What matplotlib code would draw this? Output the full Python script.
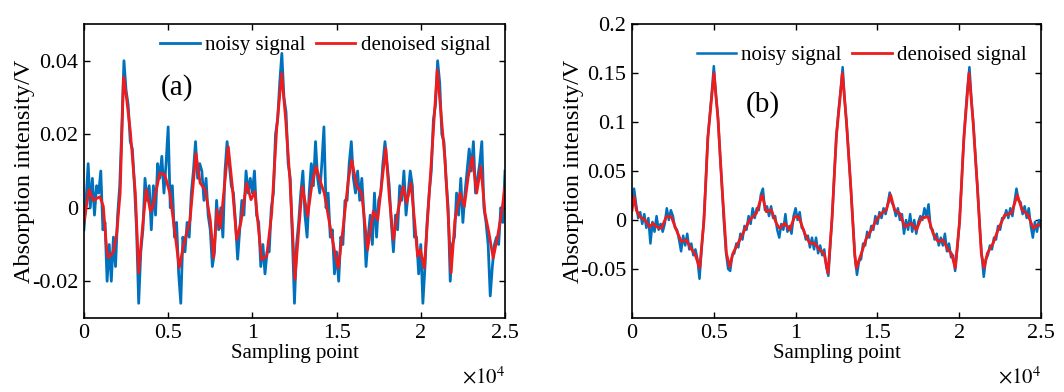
import numpy as np
import matplotlib
matplotlib.use('Agg')
import matplotlib.pyplot as plt

plt.rcParams['font.family'] = ['Liberation Serif', 'DejaVu Serif']
plt.rcParams['mathtext.fontset'] = 'stix'

# ---- panel (a) ----
den_a_x = [0, 300, 550, 950, 1150, 1350, 1450, 1750, 1950, 2150, 2350, 2550, 2750, 3050, 3250,
           3450, 3700, 3950, 4100, 4500, 4800, 5100, 5400, 5660, 5900, 6300, 6650, 6900, 7200,
           7500, 7700, 7900, 8100, 8570, 8810, 9070, 9320, 9660, 9920, 10150, 10350, 10550,
           10850, 11150, 11440, 11740, 11980, 12230, 12530, 12770, 12970, 13280, 13520, 13780,
           14070, 14270, 14610, 14900, 15100, 15400, 15700, 15900, 16200, 16490, 16840, 17180,
           17440, 17920, 18130, 18370, 18660, 18960, 19160, 19420, 19660, 19810, 19970, 20210,
           20490, 20750, 20980, 21200, 21440, 21640, 21800, 22030, 22330, 22590, 22820, 23060,
           23320, 23570, 23810, 24050, 24300, 24560, 24800, 25000]
den_a_y = [-0.004, 0.005, 0.002, 0.003, 0.0004, -0.0114, -0.0136, -0.012, -0.0068, 0.004, 0.0356,
           0.029, 0.021, 0.004, -0.0177, -0.0068, 0.005, -0.001, 0.0004, 0.0094, 0.009, 0.004,
           -0.0068, -0.0163, -0.0105, -0.0033, 0.0148, 0.0067, 0.0049, -0.0033, -0.0136, -0.0005,
           -0.0055, 0.0166, 0.0058, -0.0087, -0.004, 0.0067, 0.0022, 0.0044, -0.005, -0.0141,
           -0.0132, -0.0014, 0.0212, 0.0366, 0.0239, 0.0076, -0.0195, -0.005, 0.0058, -0.0023,
           0.0058, 0.0112, 0.0067, 0.004, -0.005, -0.0123, -0.0164, -0.005, 0.0076, 0.013, 0.0058,
           0.004, -0.0114, -0.001, -0.0033, 0.0162, 0.003, -0.0087, -0.0005, 0.0058, 0.0013,
           0.0067, -0.005, -0.0132, -0.0114, -0.0164, 0.003, 0.0212, 0.0375, 0.0257, 0.013,
           -0.0033, -0.0177, -0.0033, 0.004, 0.0004, 0.0085, 0.0139, 0.004, 0.0112, -0.0014,
           -0.0069, -0.0137, -0.0078, -0.0014, 0.0058]

noisy_a = [-0.006, 0.002, 0.012, 0.000, 0.008, -0.002, 0.006, 0.004,
           0.010, -0.006, -0.004, -0.020, -0.010, -0.020, -0.008, -0.016,
           -0.002, 0.006, 0.022, 0.040, 0.032, 0.028, 0.018, 0.016,
           0.006, -0.006, -0.026, -0.012, -0.006, 0.008, 0.002, 0.006,
           -0.006, 0.006, -0.002, 0.012, 0.008, 0.014, 0.004, 0.012,
           0.022, 0.000, 0.006, -0.008, -0.004, -0.018, -0.026, -0.008,
           -0.012, -0.004, -0.008, 0.004, 0.010, 0.018, 0.008, 0.012,
           0.010, 0.002, 0.008, -0.002, -0.006, -0.016, -0.012, 0.002,
           -0.006, 0.000, -0.008, 0.010, 0.018, 0.012, 0.006, 0.004,
           -0.004, -0.014, -0.006, 0.002, -0.002, 0.010, 0.004, 0.008,
           0.004, 0.010, -0.002, -0.004, -0.016, -0.010, -0.018, -0.012,
           -0.012, 0.000, 0.004, 0.020, 0.024, 0.034, 0.042, 0.030,
           0.026, 0.012, 0.008, -0.008, -0.026, -0.010, -0.004, 0.004,
           0.010, -0.002, -0.008, 0.004, 0.012, 0.006, 0.018, 0.008,
           0.004, 0.012, 0.022, 0.000, 0.004, -0.008, -0.006, -0.018,
           -0.012, -0.020, -0.008, -0.010, 0.002, 0.002, 0.012, 0.018,
           0.008, 0.004, 0.010, 0.002, 0.008, -0.002, -0.016, -0.008,
           -0.002, -0.010, 0.004, -0.008, 0.002, 0.004, 0.012, 0.018,
           0.012, 0.006, -0.004, -0.012, -0.002, -0.006, 0.006, 0.002,
           0.010, -0.002, 0.004, 0.010, 0.006, -0.008, -0.008, -0.018,
           -0.010, -0.026, -0.016, -0.004, 0.004, 0.010, 0.024, 0.028,
           0.040, 0.034, 0.020, 0.018, 0.008, 0.000, -0.020, -0.010,
           -0.008, 0.004, -0.002, 0.008, -0.004, 0.004, 0.010, 0.016,
           0.010, 0.018, 0.004, 0.008, 0.012, 0.018, 0.000, -0.004,
           -0.010, -0.024, -0.016, -0.010, -0.008, -0.010, 0.000, -0.004,
           0.010]

# ---- panel (b) ----
den_b_x = [0, 120, 265, 470, 775, 1080, 1280, 1490, 1790, 2100, 2400, 2710, 3010, 3320, 3590,
           3830, 4140, 4400, 4640, 5010, 5260, 5500, 5770, 5970, 6170, 6480, 6780, 7190, 7600,
           7950, 8210, 8510, 8820, 9020, 9330, 9640, 9940, 10190, 10550, 10860, 11170, 11470,
           11740, 11980, 12220, 12490, 12860, 13100, 13370, 13610, 13710, 14020, 14320, 14630,
           14930, 15240, 15540, 15810, 16050, 16360, 16670, 17070, 17380, 17680, 18090, 18400,
           18700, 19010, 19320, 19520, 19760, 20030, 20290, 20600, 20840, 21110, 21350, 21520,
           21720, 22070, 22370, 22780, 23190, 23550, 23840, 24210, 24520, 24780, 25000]
den_b_y = [0.010, 0.024, 0.010, 0.0034, 0.000, -0.0068, -0.0034, -0.0068, -0.0085, 0.0034, 0.0034,
           -0.0102, -0.022, -0.0204, -0.029, -0.034, -0.049, 0.000, 0.085, 0.150, 0.102, 0.034,
           -0.034, -0.0476, -0.034, -0.0238, -0.0136, 0.000, 0.0068, 0.0255, 0.0085, 0.0102,
           -0.0034, -0.0085, -0.0034, -0.0102, 0.0034, 0.0034, -0.0136, -0.0238, -0.0238,
           -0.0306, -0.034, -0.0544, 0.000, 0.085, 0.150, 0.102, 0.034, -0.034, -0.049, -0.034,
           -0.0187, -0.0102, 0.000, 0.0068, 0.0102, 0.0255, 0.0102, 0.0068, -0.0068, -0.0034,
           -0.0102, 0.0017, 0.0034, -0.0136, -0.022, -0.0204, -0.0306, -0.034, -0.049, 0.000,
           0.085, 0.150, 0.102, 0.034, -0.034, -0.049, -0.034, -0.0238, -0.0102, 0.0051, 0.0068,
           0.0255, 0.0102, 0.0051, -0.0085, -0.0051, -0.005]

noisy_b = [0.014, 0.032, 0.016, 0.002, 0.008, -0.004, 0.006, -0.008,
           0.002, -0.024, -0.002, -0.012, 0.004, -0.010, -0.004, -0.012,
           -0.004, 0.012, 0.000, 0.010, 0.004, -0.008, -0.010, -0.020,
           -0.032, -0.016, -0.026, -0.014, -0.030, -0.024, -0.036, -0.030,
           -0.040, -0.060, -0.030, -0.004, 0.036, 0.082, 0.106, 0.130,
           0.157, 0.128, 0.106, 0.068, 0.034, -0.004, -0.034, -0.050,
           -0.052, -0.036, -0.034, -0.024, -0.028, -0.014, -0.020, -0.006,
           -0.010, 0.004, -0.004, 0.012, 0.002, 0.012, 0.010, 0.026,
           0.032, 0.010, 0.014, 0.004, 0.014, 0.002, 0.004, -0.010,
           -0.018, -0.004, -0.010, 0.006, -0.012, -0.006, -0.014, 0.004,
           0.012, 0.000, 0.008, -0.008, -0.010, -0.020, -0.016, -0.028,
           -0.018, -0.030, -0.018, -0.034, -0.026, -0.036, -0.030, -0.048,
           -0.057, -0.024, 0.008, 0.050, 0.088, 0.112, 0.132, 0.156,
           0.122, 0.096, 0.064, 0.033, -0.002, -0.038, -0.056, -0.042,
           -0.040, -0.024, -0.026, -0.012, -0.018, -0.006, -0.010, 0.004,
           -0.004, 0.008, 0.002, 0.012, 0.006, 0.016, 0.028, 0.018,
           0.014, 0.004, 0.012, 0.000, 0.006, -0.014, 0.000, -0.010,
           0.006, -0.012, 0.000, -0.014, -0.002, 0.004, 0.000, 0.012,
           0.004, 0.016, -0.008, -0.010, -0.020, -0.014, -0.026, -0.018,
           -0.026, -0.014, -0.032, -0.024, -0.038, -0.036, -0.052, -0.030,
           -0.006, 0.032, 0.074, 0.106, 0.134, 0.156, 0.122, 0.096,
           0.062, 0.030, -0.006, -0.036, -0.058, -0.040, -0.036, -0.026,
           -0.030, -0.018, -0.020, -0.006, -0.010, 0.002, 0.002, 0.010,
           0.002, 0.012, 0.004, 0.018, 0.032, 0.020, 0.018, 0.006,
           0.014, 0.002, 0.012, -0.006, -0.018, -0.002, -0.012, 0.000,
           -0.008]

noisy_x = np.arange(0, 25001, 125)   # sample positions of the noisy trace

xticks = [0, 5000, 10000, 15000, 20000, 25000]
xticklabels = ['0', '0.5', '1', '1.5', '2', '2.5']
yticks_a = [-0.02, 0, 0.02, 0.04]
yticklabels_a = ['-0.02', '0', '0.02', '0.04']
yticks_b = [-0.05, 0, 0.05, 0.1, 0.15, 0.2]
yticklabels_b = ['-0.05', '0', '0.05', '0.1', '0.15', '0.2']

blue = '#0072BD'
red = '#EE1C1C'
fs = 15

fig = plt.figure(figsize=(10.64, 3.92), dpi=100)
ax1 = fig.add_axes([0.0789, 0.1888, 0.3957, 0.75])
ax2 = fig.add_axes([0.594, 0.1888, 0.3844, 0.75])

panels = [
    (ax1, noisy_a, den_a_x, den_a_y, (-0.03, 0.05), yticks_a, yticklabels_a, '(a)', (0.22, 0.785), (0.985, 0.99), 2.0, -2),
    (ax2, noisy_b, den_b_x, den_b_y, (-0.1, 0.2), yticks_b, yticklabels_b, '(b)', (0.32, 0.725), (0.985, 0.955), 1.8, -3),
]

for ax, noisy, dx, dy, ylim, yt, ytl, tag, tagpos, legpos, nlw, lpad in panels:
    ax.plot(noisy_x, noisy, color=blue, lw=nlw, label='noisy signal')
    ax.plot(dx, dy, color=red, lw=2.0, label='denoised signal')
    ax.set_xlim(0, 25000)
    ax.set_ylim(*ylim)
    ax.set_xticks(xticks)
    ax.set_xticklabels(xticklabels)
    ax.set_yticks(yt)
    ax.set_yticklabels(ytl)
    ax.tick_params(direction='in', top=True, right=True, length=4, width=1, labelsize=16)
    ax.tick_params(axis='x', pad=4)
    ax.tick_params(axis='y', pad=4)
    for s in ax.spines.values():
        s.set_linewidth(1.2)
    ax.set_xlabel('Sampling point', fontsize=fs, labelpad=1)
    ax.set_ylabel('Absorption intensity/V', fontsize=17.5, labelpad=lpad)
    ax.text(*tagpos, tag, transform=ax.transAxes, fontsize=21, ha='center', va='center')
    ax.text(1.0, -0.165, r'$\times10^{4}$', transform=ax.transAxes, fontsize=fs, ha='right', va='top')
    ax.legend(loc='upper right', bbox_to_anchor=legpos, ncol=2, frameon=False, fontsize=fs,
              handlelength=1.9, handletextpad=0.25, columnspacing=0.5, borderaxespad=0)

fig.savefig('out.png', dpi=100)
